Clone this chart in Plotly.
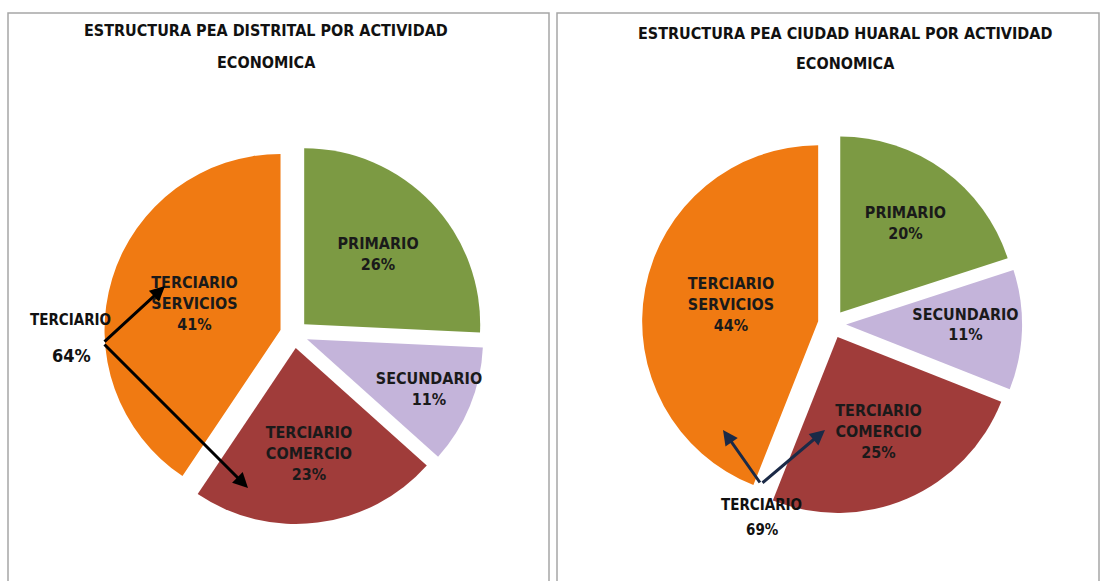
import plotly.graph_objects as go

# Data
categories = ["PRIMARIO", "SECUNDARIO", "TERCIARIO<br>COMERCIO", "TERCIARIO<br>SERVICIOS"]
distrital_values = [26, 11, 23, 41]
huaral_values = [20, 11, 25, 44]
distrital_title = ["ESTRUCTURA PEA DISTRITAL POR ACTIVIDAD", "ECONOMICA"]
huaral_title = ["ESTRUCTURA PEA CIUDAD HUARAL POR ACTIVIDAD", "ECONOMICA"]
distrital_terciario = ["TERCIARIO", "64%"]
huaral_terciario = ["TERCIARIO", "69%"]

colors = ["#7C9A43", "#C4B4DA", "#A03C3A", "#F07A12"]
FONT = "Liberation Sans Narrow, DejaVu Sans Condensed, Roboto Condensed, Arial Narrow, Liberation Sans, sans-serif"
W, H = 1101, 581

def px(x):
    return x / W

def py(y):
    return 1 - y / H

fig = go.Figure()

def add_pie(values, cx, cy, r, pull):
    half = r * (1 + pull)
    fig.add_trace(go.Pie(
        labels=categories, values=values, sort=False, direction="clockwise",
        rotation=0, pull=[pull] * len(values),
        marker=dict(colors=colors, line=dict(color="rgba(255,255,255,0)", width=0)),
        texttemplate="%{label}<br>%{percent:.0%}", textposition="inside",
        insidetextorientation="horizontal",
        textfont=dict(family=FONT, size=16, color="#1a1a1a", weight="bold"),
        domain=dict(x=[px(cx - half), px(cx + half)], y=[py(cy + half), py(cy - half)]),
        showlegend=False, hoverinfo="label+percent",
    ))

add_pie(distrital_values, 294, 334, 176, 0.08)
add_pie(huaral_values, 832, 324, 176, 0.08)

# boxes
shapes = [
    dict(type="rect", xref="paper", yref="paper", x0=px(8), x1=px(549), y0=py(590), y1=py(13),
         line=dict(color="#a6a6a6", width=1.5), fillcolor="rgba(0,0,0,0)", layer="below"),
    dict(type="rect", xref="paper", yref="paper", x0=px(557), x1=px(1099), y0=py(590), y1=py(13),
         line=dict(color="#a6a6a6", width=1.5), fillcolor="rgba(0,0,0,0)", layer="below"),
]

def label(text, x, y, size):
    return dict(text=text, x=px(x), y=py(y), xref="paper", yref="paper", showarrow=False,
                xanchor="center", yanchor="middle",
                font=dict(family=FONT, size=size, color="#111", weight="bold"), align="center")

annotations = [
    label(distrital_title[0], 266, 31, 16),
    label(distrital_title[1], 266, 62, 16),
    label(huaral_title[0], 845, 33, 16),
    label(huaral_title[1], 845, 64, 16),
    label(distrital_terciario[0], 70, 320, 15),
    label(distrital_terciario[1], 71, 355, 18),
    label(huaral_terciario[0], 761, 505, 15),
    label(huaral_terciario[1], 762, 530, 15),
]

def arrow(head, tail, color):
    return dict(text="", x=px(head[0]), y=py(head[1]), xref="paper", yref="paper",
                showarrow=True, ax=tail[0] - head[0], ay=tail[1] - head[1],
                arrowhead=2, arrowsize=1, arrowwidth=3, arrowcolor=color, standoff=0, startstandoff=0)

annotations += [
    arrow((165, 286), (103, 343), "#000000"),
    arrow((248, 488), (103, 343), "#000000"),
    arrow((723, 430), (761, 484), "#1b2a47"),
    arrow((825, 430), (761, 484), "#1b2a47"),
]

fig.update_layout(
    width=W, height=H, margin=dict(l=0, r=0, t=0, b=0),
    paper_bgcolor="white", plot_bgcolor="white",
    shapes=shapes, annotations=annotations,
    uniformtext=dict(minsize=15, mode="show"),
)

fig.write_html("out.html", config={"displayModeBar": False},
               post_script="document.body.style.margin='0';document.body.style.overflow='hidden';")
